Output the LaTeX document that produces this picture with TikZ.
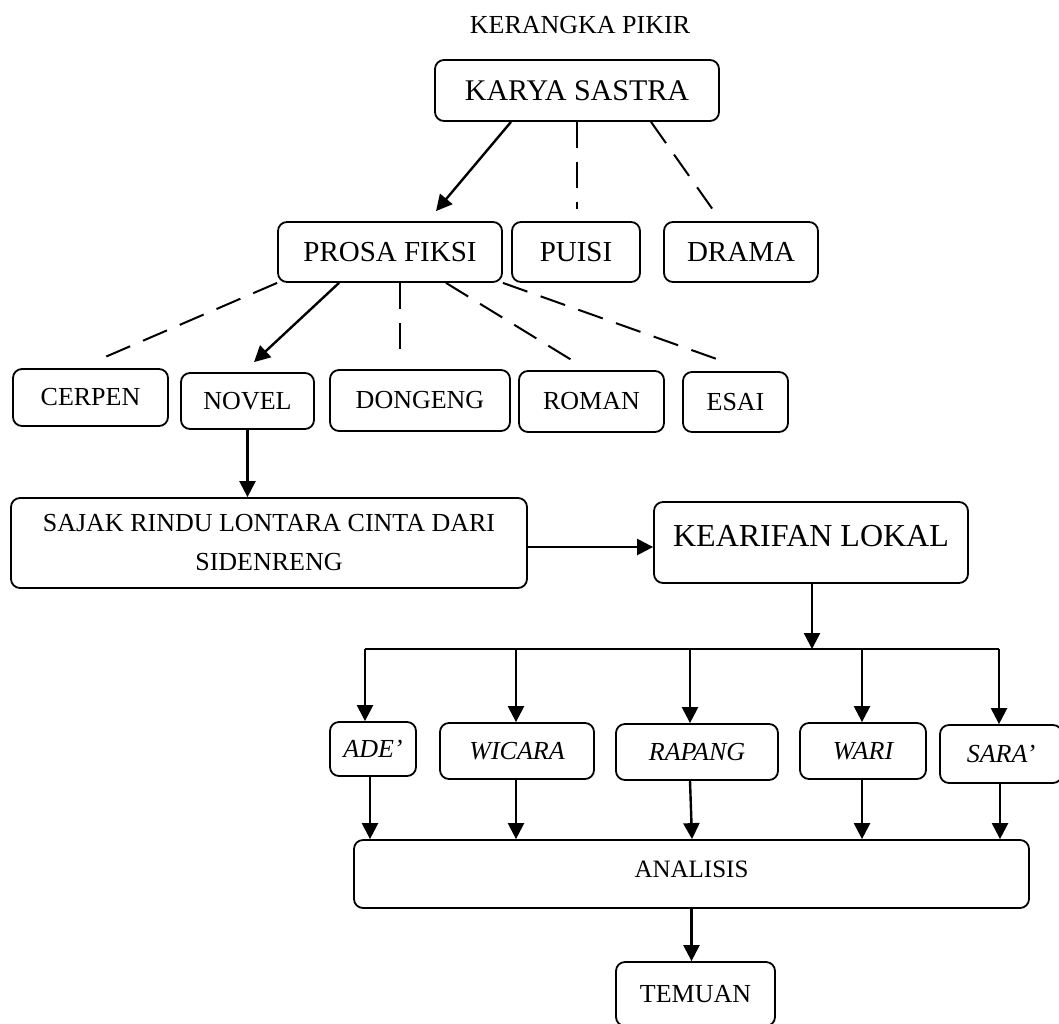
\documentclass[tikz,border=0pt]{standalone}
\usepackage{fontspec}
\setmainfont{Liberation Serif}
\usetikzlibrary{arrows.meta,calc}
\tikzset{
  box/.style={draw, line width=0.9pt, rounded corners=4.5pt, inner sep=0pt, anchor=center},
  arr/.style={line width=1.2pt, -{Triangle[length=8pt,width=8pt]}},
  dsh/.style={line width=1pt, dash pattern=on 13pt off 7pt},
  ln/.style={line width=1.2pt},
  fA/.style={font=\fontsize{15pt}{18pt}\selectfont},
  fB/.style={font=\fontsize{14.5pt}{17pt}\selectfont},
  fC/.style={font=\fontsize{13pt}{15.6pt}\selectfont},
  fI/.style={font=\fontsize{13pt}{15.6pt}\selectfont\itshape},
  fK/.style={font=\fontsize{16pt}{19pt}\selectfont},
  fN/.style={font=\fontsize{12.5pt}{15pt}\selectfont},
}
\begin{document}
\begin{tikzpicture}[x=0.5pt,y=-0.5pt]
\useasboundingbox (0,0) rectangle (1059,1023);

\node[fC] (title) at (580,25) {KERANGKA PIKIR};

\node[box,fA,minimum width=142pt,minimum height=30.5pt] (karya) at (577,90.5) {KARYA SASTRA};

\node[box,fB,minimum width=112pt,minimum height=30pt] (prosa) at (390,252) {PROSA FIKSI};
\node[box,fB,minimum width=64pt,minimum height=30pt] (puisi) at (576,252) {PUISI};
\node[box,fB,minimum width=77pt,minimum height=30pt] (drama) at (741,252) {DRAMA};

\node[box,fC,minimum width=77.5pt,minimum height=28.5pt] (cerpen) at (90.5,397.5) {CERPEN};
\node[box,fC,minimum width=66.5pt,minimum height=28pt] (novel) at (247.5,401) {NOVEL};
\node[box,fC,minimum width=90pt,minimum height=30.5pt] (dongeng) at (420,400.5) {DONGENG};
\node[box,fC,minimum width=72.5pt,minimum height=30.5pt] (roman) at (591.5,401.5) {ROMAN};
\node[box,fC,minimum width=52.5pt,minimum height=30pt] (esai) at (735.5,402) {ESAI};

\node[box,align=center,font=\fontsize{13pt}{19.5pt}\selectfont,minimum width=258pt,minimum height=45pt] (sajak) at (269,543)
  {SAJAK RINDU LONTARA CINTA DARI\\SIDENRENG};
\node[box,fK,minimum width=157pt,minimum height=40.5pt,text height=12pt,text depth=8.4pt] (kearifan) at (811,542.5) {KEARIFAN LOKAL};

\node[box,fI,minimum width=43pt,minimum height=27pt] (ade) at (373,749) {ADE’\hspace{6pt}};
\node[box,fI,minimum width=77pt,minimum height=28pt] (wicara) at (517,751) {WICARA\hspace{7pt}};
\node[box,fI,minimum width=81pt,minimum height=28pt] (rapang) at (697,752) {RAPANG\hspace{8pt}};
\node[box,fI,minimum width=63pt,minimum height=28pt] (wari) at (863,751) {WARI\hspace{8pt}};
\node[box,fI,minimum width=61pt,minimum height=29pt] (sara) at (1001,754) {SARA’\hspace{4pt}};

\node[box,fN,minimum width=337.5pt,minimum height=34pt,text height=10pt,text depth=6.8pt] (analisis) at (691.5,874) {ANALISIS};
\node[box,fC,minimum width=79.5pt,minimum height=32pt] (temuan) at (695.5,994) {TEMUAN};

% karya sastra
\draw[arr] ($(karya.south)+(-66,0)$) -- ($(prosa.north)+(46,-10)$);
\draw[dsh] (karya.south) -- ($(puisi.north)+(1,-12)$);
\draw[dsh] ($(karya.south)+(74,0)$) -- ($(drama.north)+(-25,-7)$);

% prosa fiksi
\draw[dsh] (prosa.south west) -- ($(cerpen.north)+(7.5,-8)$);
\draw[arr] ($(prosa.south)+(-51,0)$) -- ($(novel.north)+(6.5,-10)$);
\draw[dsh] ($(prosa.south)+(10,0)$) -- ($(dongeng.north)+(-20,-9)$);
\draw[dsh] ($(prosa.south)+(56,0)$) -- ($(roman.north)+(-16.5,-8)$);
\draw[dsh] (prosa.south east) -- ($(esai.north)+(-18.5,-12)$);

% novel -> sajak -> kearifan
\draw[arr] (novel.south) -- (novel.south |- sajak.north);
\draw[arr] ($(sajak.east)+(0,4)$) -- ($(kearifan.west)+(0,4.5)$);

% branching
\coordinate (b0) at (812,649);
\coordinate (bA) at (365,649);
\coordinate (bB) at (516,649);
\coordinate (bC) at (690,649);
\coordinate (bD) at (862,649);
\coordinate (bE) at (999,649);
\draw[arr] ($(kearifan.south)+(1,0)$) -- (b0);
\draw[ln] (bA) -- (bE);
\draw[arr] (bA) -- (bA |- ade.north);
\draw[arr] (bB) -- (bB |- wicara.north);
\draw[arr] (bC) -- (bC |- rapang.north);
\draw[arr] (bD) -- (bD |- wari.north);
\draw[arr] (bE) -- (bE |- sara.north);

% to analisis
\draw[arr] ($(ade.south)+(-3,0)$) -- ($(ade.south |- analisis.north)+(-3,0)$);
\draw[arr] ($(wicara.south)+(-1,0)$) -- ($(wicara.south |- analisis.north)+(-1,0)$);
\draw[arr] ($(rapang.south)+(-7,0)$) -- ($(rapang.south |- analisis.north)+(-5,0)$);
\draw[arr] ($(wari.south)+(-1,0)$) -- ($(wari.south |- analisis.north)+(-1,0)$);
\draw[arr] ($(sara.south)+(-1,0)$) -- ($(sara.south |- analisis.north)+(-1,0)$);

\draw[arr] (analisis.south) -- (analisis.south |- temuan.north);
\end{tikzpicture}
\end{document}
